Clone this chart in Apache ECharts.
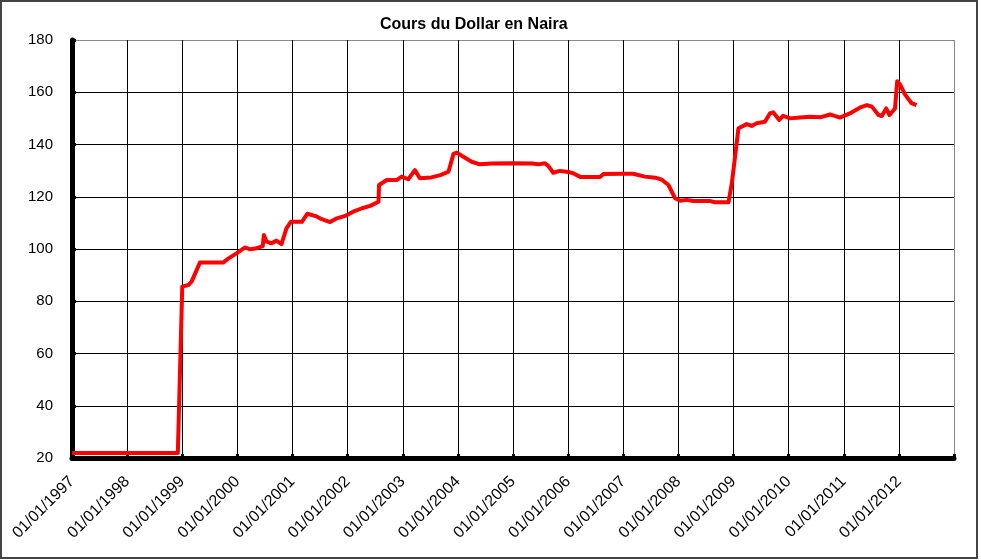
<!DOCTYPE html>
<html>
<head>
<meta charset="utf-8">
<script src="https://cdn.jsdelivr.net/npm/echarts@6/dist/echarts.min.js"></script>
<style>
html,body{margin:0;padding:0;background:#fff;}
#chart{width:981px;height:560px;}
</style>
</head>
<body>
<div id="chart"></div>
<script>
// Dates as decimal years, exchange rate in Naira per US Dollar
var dates = [1997.00, 1998.92, 1999.00, 1999.11, 1999.17, 1999.32, 1999.74, 1999.84, 1999.99, 2000.14,
  2000.23, 2000.35, 2000.46, 2000.48, 2000.53, 2000.62, 2000.71, 2000.80, 2000.89, 2000.97,
  2001.17, 2001.27, 2001.42, 2001.53, 2001.68, 2001.79, 2001.97, 2002.10, 2002.26, 2002.41,
  2002.56, 2002.57, 2002.71, 2002.89, 2002.98, 2003.10, 2003.22, 2003.31, 2003.52, 2003.68,
  2003.83, 2003.92, 2003.98, 2004.10, 2004.25, 2004.40, 2004.61, 2004.98, 2005.34, 2005.46,
  2005.58, 2005.64, 2005.73, 2005.85, 2006.00, 2006.09, 2006.22, 2006.58, 2006.64, 2006.97,
  2007.18, 2007.39, 2007.58, 2007.70, 2007.82, 2007.94, 2008.03, 2008.15, 2008.27, 2008.57,
  2008.66, 2008.91, 2008.97, 2009.09, 2009.24, 2009.33, 2009.42, 2009.57, 2009.66, 2009.72,
  2009.83, 2009.90, 2010.02, 2010.21, 2010.39, 2010.57, 2010.75, 2010.93, 2011.11, 2011.29,
  2011.42, 2011.51, 2011.63, 2011.69, 2011.77, 2011.83, 2011.93, 2011.97, 2012.02, 2012.11,
  2012.23, 2012.32];
var rates = [21.9, 21.9, 85.6, 86.2, 87.5, 94.8, 94.8, 96.4, 98.4, 100.6,
  99.9, 100.3, 101.1, 105.4, 102.8, 102.2, 103.2, 101.9, 107.9, 110.4,
  110.4, 113.5, 112.6, 111.4, 110.3, 111.6, 112.8, 114.3, 115.6, 116.5,
  118.1, 124.5, 126.4, 126.4, 127.7, 126.7, 130.2, 127.1, 127.4, 128.3,
  129.6, 136.4, 136.9, 135.3, 133.4, 132.4, 132.7, 132.8, 132.7, 132.4,
  132.8, 131.8, 129.2, 129.9, 129.5, 129.0, 127.6, 127.6, 128.7, 128.8,
  128.8, 127.7, 127.3, 126.5, 124.5, 119.4, 118.5, 118.8, 118.4, 118.4,
  117.9, 117.9, 125.2, 146.2, 147.8, 147.1, 148.1, 148.7, 151.9, 152.3,
  149.4, 151.0, 150.0, 150.3, 150.6, 150.4, 151.5, 150.3, 151.9, 154.1,
  155.1, 154.5, 151.3, 150.9, 153.8, 151.3, 153.8, 164.2, 163.0, 159.2,
  155.8, 155.1];
var yearTicks = [1997, 1998, 1999, 2000, 2001, 2002, 2003, 2004, 2005, 2006, 2007, 2008, 2009, 2010, 2011, 2012];
var titleText = 'Cours du Dollar en Naira';

var seriesData = dates.map(function (d, i) { return [d, rates[i]]; });

var xColors = [];
for (var i = 0; i < 16; i++) xColors.push('#000');
xColors.push('#888');
var yColors = ['#000', '#000', '#000', '#000', '#000', '#000', '#000', '#000', '#888'];

var chart = echarts.init(document.getElementById('chart'), null, {renderer: 'canvas'});
chart.setOption({
  animation: false,
  backgroundColor: '#fff',
  textStyle: {fontFamily: 'Liberation Sans, Arial, sans-serif'},
  title: {
    text: titleText,
    left: 375,
    top: 12,
    textStyle: {fontSize: 16, fontWeight: 'bold', color: '#000', fontFamily: 'Liberation Sans, Arial, sans-serif'}
  },
  graphic: [{
    type: 'rect',
    shape: {x: 1, y: 1, width: 976, height: 557},
    style: {fill: 'none', stroke: '#444', lineWidth: 2},
    silent: true
  }],
  grid: {left: 72, right: 27, top: 40, bottom: 102, containLabel: false},
  xAxis: {
    type: 'value',
    min: 1997,
    max: 2013,
    interval: 1,
    axisLine: {show: true, onZero: false, lineStyle: {color: '#000', width: 5}},
    axisTick: {show: true, inside: true, length: 4, lineStyle: {color: '#000', width: 3}},
    splitLine: {show: true, lineStyle: {color: xColors, width: 1}},
    axisLabel: {
      rotate: 45,
      margin: 21,
      fontSize: 16,
      color: '#000',
      fontFamily: 'Liberation Sans, Arial, sans-serif',
      formatter: function (v) { return yearTicks.indexOf(v) >= 0 ? '01/01/' + v : ''; }
    }
  },
  yAxis: {
    type: 'value',
    min: 20,
    max: 180,
    interval: 20,
    axisLine: {show: true, onZero: false, lineStyle: {color: '#000', width: 5}},
    axisTick: {show: true, inside: true, length: 4, lineStyle: {color: '#000', width: 3}},
    splitLine: {show: true, lineStyle: {color: yColors, width: 1}},
    axisLabel: {margin: 19, fontSize: 15, color: '#000', fontFamily: 'Liberation Sans, Arial, sans-serif'}
  },
  series: [{
    type: 'line',
    data: seriesData,
    showSymbol: false,
    symbol: 'none',
    smooth: false,
    lineStyle: {color: '#ff0000', width: 4, join: 'round'},
    z: 5
  }]
});
</script>
</body>
</html>
